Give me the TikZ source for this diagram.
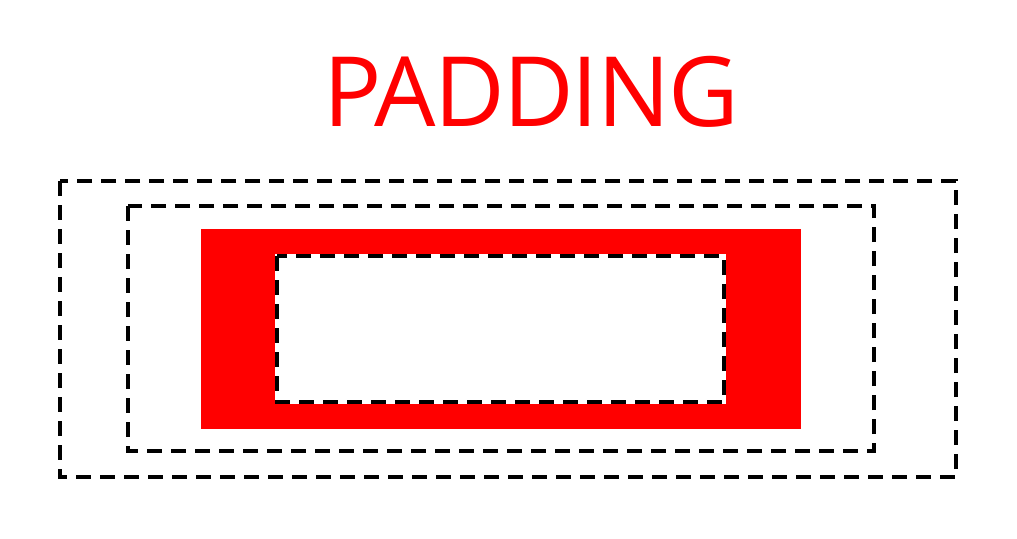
\documentclass[tikz,border=0pt]{standalone}
\usepackage{fontspec}
\setmainfont{Open Sans}
\definecolor{padred}{RGB}{255,0,0}
\tikzset{
  dbox/.style={draw=black, line width=4pt, dash pattern=on 15pt off 9pt},
}
\begin{document}
\begin{tikzpicture}[x=1pt,y=-1pt]
\useasboundingbox (0,0) rectangle (1017,538);
\fill[white] (0,0) rectangle (1017,538);
\node[anchor=base, inner sep=0pt, text=padred, font=\fontsize{97}{110}\selectfont] (title) at (531,126) {\addfontfeature{LetterSpace=-2}PADDING};
\draw[dbox] (60,181) rectangle (956,477);
\draw[dbox] (128,206) rectangle (874,451);
\fill[padred] (201,229) rectangle (801,429);
\fill[white] (275,254) rectangle (726,404);
\draw[dbox] (277,256) rectangle (724,402);
\end{tikzpicture}
\end{document}
